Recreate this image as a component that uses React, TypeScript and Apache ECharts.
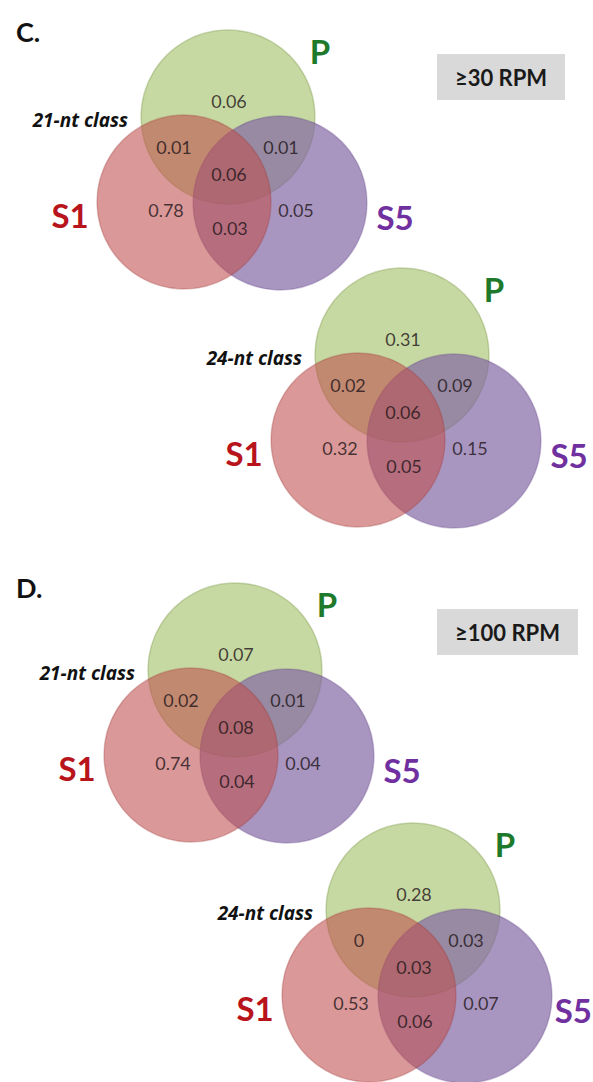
import React, { useEffect, useRef } from "react";
import * as echarts from "echarts";

// ---- data ----
const setNames = ["P", "S1", "S5"];
const regionKeys = ["P", "P∩S1", "P∩S5", "P∩S1∩S5", "S1", "S1∩S5", "S5"];
const classLabels = ["21-nt class", "24-nt class", "21-nt class", "24-nt class"];
const panelLetters = ["C.", "D."];
const thresholds = ["≥30 RPM", "≥100 RPM"];
const c21_30 = [0.06, 0.01, 0.01, 0.06, 0.78, 0.03, 0.05];
const c24_30 = [0.31, 0.02, 0.09, 0.06, 0.32, 0.05, 0.15];
const c21_100 = [0.07, 0.02, 0.01, 0.08, 0.74, 0.04, 0.04];
const c24_100 = [0.28, 0, 0.03, 0.03, 0.53, 0.06, 0.07];
const panelValues = [c21_30, c24_30, c21_100, c24_100];

// ---- layout (pixels, axis is 1:1 with page) ----
const W = 593;
const H = 1082;
const R = 87;
const origins = [
  [228, 117],
  [402, 355],
  [235, 670],
  [413, 910],
];
// circle centre offsets relative to P centre: P, S1, S5
const circleOffsets = [
  [0, 0],
  [-44, 85],
  [52, 86],
];
// region label offsets, same order as regionKeys
const regionOffsets = [
  [1, -16],
  [-54, 30],
  [53, 30],
  [1, 57],
  [-62, 93],
  [2, 111],
  [68, 93],
];
const setLabelOffsets = [
  [92, -66],
  [-158, 98],
  [167, 100],
];
const setColors = ["#1e7a2a", "#b8141c", "#7030a0"];
const fills = [
  "rgba(155,187,89,0.56)",
  "rgba(192,80,77,0.58)",
  "rgba(128,100,162,0.68)",
];
const strokes = [
  "rgba(120,150,70,0.35)",
  "rgba(160,60,60,0.3)",
  "rgba(100,70,140,0.3)",
];
const drawOrder = [0, 2, 1];
const FONT = "Lato, 'Open Sans', sans-serif";

export default function App() {
  const ref = useRef<HTMLDivElement>(null);
  useEffect(() => {
    document.body.style.margin = "0";
    const chart = echarts.init(ref.current!, null, { renderer: "svg" });

    const circleData: number[][] = [];
    origins.forEach(([ox, oy]) => {
      drawOrder.forEach((i) => {
        circleData.push([ox + circleOffsets[i][0], oy + circleOffsets[i][1], R, i]);
      });
    });

    const valueData: any[] = [];
    panelValues.forEach((vals, p) => {
      const [ox, oy] = origins[p];
      vals.forEach((v, k) => {
        valueData.push({
          name: regionKeys[k],
          value: [ox + regionOffsets[k][0], oy + regionOffsets[k][1], v],
        });
      });
    });

    const graphics: any[] = [];
    origins.forEach(([ox, oy], p) => {
      setNames.forEach((s, i) => {
        let x = ox + setLabelOffsets[i][0];
        let align = "center";
        if (x + 22 > W) {
          x = W - 1;
          align = "right";
        }
        graphics.push({
          type: "text",
          x,
          y: oy + setLabelOffsets[i][1],
          z: 10,
          style: {
            text: s,
            font: `bold 33px ${FONT}`,
            fill: setColors[i],
            align,
            verticalAlign: "middle",
          },
        });
      });
      graphics.push({
        type: "text",
        x: ox - 100,
        y: oy + 3,
        z: 10,
        style: {
          text: classLabels[p],
          font: `italic bold 19px 'Open Sans', sans-serif`,
          fill: "#111",
          align: "right",
          verticalAlign: "middle",
        },
      });
    });
    const letterPos = [
      [16, 31],
      [16, 587],
    ];
    panelLetters.forEach((t, i) => {
      graphics.push({
        type: "text",
        x: letterPos[i][0],
        y: letterPos[i][1],
        style: {
          text: t,
          font: `bold 27px ${FONT}`,
          fill: "#111",
          align: "left",
          verticalAlign: "middle",
        },
      });
    });
    const boxes = [
      [437, 54, 128, 46],
      [437, 609, 141, 46],
    ];
    thresholds.forEach((t, i) => {
      const [bx, by, bw, bh] = boxes[i];
      graphics.push({
        type: "rect",
        shape: { x: bx, y: by, width: bw, height: bh },
        style: { fill: "#d9d9d9" },
      });
      graphics.push({
        type: "text",
        x: bx + bw / 2,
        y: by + bh / 2,
        style: {
          text: t,
          font: `bold 22px ${FONT}`,
          fill: "#1a1a1a",
          align: "center",
          verticalAlign: "middle",
        },
      });
    });

    chart.setOption({
      animation: false,
      grid: { left: 0, right: 0, top: 0, bottom: 0 },
      xAxis: { type: "value", min: 0, max: W, show: false },
      yAxis: { type: "value", min: 0, max: H, inverse: true, show: false },
      series: [
        {
          type: "custom",
          data: circleData,
          z: 1,
          renderItem: (params: any, api: any) => {
            const c = api.coord([api.value(0), api.value(1)]);
            const rr = api.size([api.value(2), 0])[0];
            const idx = api.value(3);
            return {
              type: "circle",
              shape: { cx: c[0], cy: c[1], r: rr },
              style: { fill: fills[idx], stroke: strokes[idx], lineWidth: 1.5 },
            };
          },
        },
        {
          type: "scatter",
          data: valueData,
          z: 5,
          symbolSize: 0,
          label: {
            show: true,
            position: "inside",
            formatter: (p: any) => String(p.value[2]),
            fontFamily: FONT,
            fontSize: 18,
            color: "#1e1418",
          },
        },
      ],
      graphic: graphics,
    });
    return () => chart.dispose();
  }, []);
  return (
    <div
      ref={ref}
      style={{ position: "absolute", left: 0, top: 0, width: W, height: H, background: "#fff" }}
    />
  );
}
